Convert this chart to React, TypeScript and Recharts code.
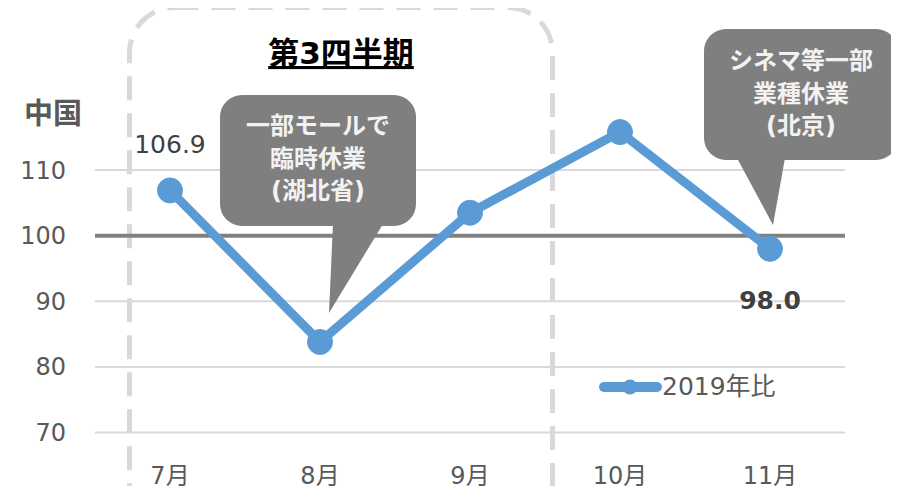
import {
  LineChart,
  Line,
  XAxis,
  YAxis,
  CartesianGrid,
  ReferenceLine,
  Legend,
  LabelList,
} from "recharts";

const months = ["7月", "8月", "9月", "10月", "11月"];
const ratio2019 = [106.9, 83.8, 103.5, 115.8, 98.0];
const yTicks = [70, 80, 90, 100, 110];
const seriesName = "2019年比";
// which points carry a value label, and whether it sits above or below
const labelAbove = ["7月"];
const labelBelow = ["11月"];

const titleText = "第3四半期";
const regionText = "中国";
const calloutHubei = ["一部モールで", "臨時休業", "(湖北省)"];
const calloutBeijing = ["シネマ等一部", "業種休業", "(北京)"];

const data = months.map((m, i) => ({ month: m, ratio: ratio2019[i] }));

const FONT = '"DejaVu Sans", "Noto Sans CJK JP", sans-serif';
const BLUE = "#5B9BD5";
const GREY = "#7F7F7F";

const renderPointLabel = (props: any) => {
  const { x, y, value, index } = props;
  const m = months[index];
  if (labelAbove.includes(m)) {
    return (
      <text x={x} y={y - 37} textAnchor="middle" fontSize={25} fill="#404040" fontFamily={FONT}>
        {Number(value).toFixed(1)}
      </text>
    );
  }
  if (labelBelow.includes(m)) {
    return (
      <text x={x} y={y + 60} textAnchor="middle" fontSize={25} fontWeight="bold" fill="#404040" fontFamily={FONT}>
        {Number(value).toFixed(1)}
      </text>
    );
  }
  return null;
};

const renderLegend = (props: any) => {
  const entry = props.payload?.[0];
  return (
    <div style={{ display: "flex", alignItems: "center" }}>
      <svg width={63} height={20}>
        <line x1={5} y1={10} x2={58} y2={10} stroke={BLUE} strokeWidth={10} strokeLinecap="round" />
        <circle cx={31} cy={10} r={7.5} fill={BLUE} />
      </svg>
      <span style={{ fontSize: 25, color: "#595959", fontFamily: FONT, lineHeight: "25px" }}>
        {entry?.value}
      </span>
    </div>
  );
};

function Callout({
  x,
  y,
  w,
  h,
  pointer,
  lines,
  baseline,
}: {
  x: number;
  y: number;
  w: number;
  h: number;
  pointer: number[][];
  lines: string[];
  baseline: number;
}) {
  return (
    <g>
      <rect x={x} y={y} width={w} height={h} rx={22} fill={GREY} />
      <polygon points={pointer.map((p) => p.join(",")).join(" ")} fill={GREY} />
      {lines.map((t, i) => (
        <text
          key={t}
          x={x + w / 2}
          y={baseline + i * 32.5}
          textAnchor="middle"
          fontSize={24}
          fontWeight="bold"
          fill="#F2F2F2"
          fontFamily={FONT}
        >
          {t}
        </text>
      ))}
    </g>
  );
}

export default function App() {
  return (
    <div style={{ position: "relative", width: 899, height: 494, margin: -8, overflow: "hidden", background: "#fff" }}>
      <svg width={899} height={494} style={{ position: "absolute", left: 0, top: 0 }}>
        <rect
          x={129.5}
          y={7.5}
          width={423}
          height={600}
          rx={45}
          fill="none"
          stroke="#D9D9D9"
          strokeWidth={5}
          strokeDasharray="24 13"
        />
      </svg>
      <div style={{ position: "absolute", left: 0, top: 0 }}>
        <LineChart
          width={899}
          height={494}
          data={data}
          margin={{ top: 104.5, right: 54, bottom: 0, left: 0 }}
        >
          <CartesianGrid
            vertical={false}
            horizontalValues={yTicks}
            stroke="#D9D9D9"
            strokeWidth={2}
          />
          <XAxis
            dataKey="month"
            height={61.5}
            padding={{ left: 75, right: 75 }}
            axisLine={false}
            tickLine={false}
            tickSize={0}
            tickMargin={34}
            tick={{ fill: "#595959", fontSize: 24, fontFamily: FONT }}
          />
          <YAxis
            type="number"
            domain={[70, 120]}
            ticks={yTicks}
            width={95}
            axisLine={false}
            tickLine={false}
            tickSize={0}
            tickMargin={29}
            tick={{ fill: "#595959", fontSize: 24, fontFamily: FONT }}
          />
          <ReferenceLine y={100} stroke="#808080" strokeWidth={4} />
          <Legend
            layout="horizontal"
            verticalAlign="middle"
            content={renderLegend}
            wrapperStyle={{ position: "absolute", left: 599, top: 374, width: "auto" }}
          />
          <Line
            type="linear"
            dataKey="ratio"
            name={seriesName}
            stroke={BLUE}
            strokeWidth={9}
            dot={{ r: 12.5, fill: BLUE, stroke: BLUE, strokeWidth: 1 }}
            activeDot={false}
            isAnimationActive={false}
          >
            <LabelList dataKey="ratio" content={renderPointLabel} />
          </Line>
        </LineChart>
      </div>
      <svg width={899} height={494} style={{ position: "absolute", left: 0, top: 0, pointerEvents: "none" }}>
        <text
          x={341}
          y={64}
          textAnchor="middle"
          fontSize={31}
          fontWeight="bold"
          fill="#000"
          fontFamily={FONT}
          style={{ textDecoration: "underline" }}
        >
          {titleText}
        </text>
        <text x={24} y={124} fontSize={29} fontWeight="bold" fill="#595959" fontFamily={FONT}>
          {regionText}
        </text>
        <Callout
          x={220}
          y={95}
          w={196}
          h={131}
          pointer={[[333, 224], [383, 224], [329, 313]]}
          lines={calloutHubei}
          baseline={134}
        />
        <Callout
          x={704}
          y={29}
          w={194}
          h={131}
          pointer={[[737, 158], [785, 158], [773, 225]]}
          lines={calloutBeijing}
          baseline={69}
        />
      </svg>
    </div>
  );
}
